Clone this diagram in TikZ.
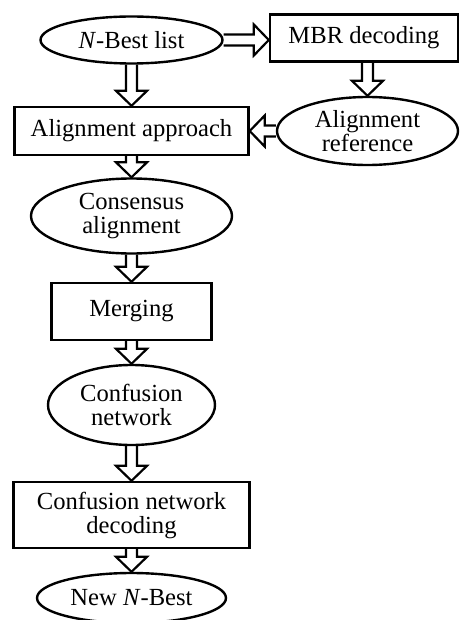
\documentclass[tikz,border=0pt]{standalone}
\usepackage{fontspec}
\setmainfont{Liberation Serif}
\usetikzlibrary{shapes.geometric,calc}
\newcommand{\blkarr}[2]{%
  \path ($(#2)!15bp!(#1)$) coordinate (hb);
  \draw[blkarrow] ($(#1)!5.5bp!90:(#2)$) -- ($(hb)!5.5bp!90:(#2)$) -- ($(hb)!15.5bp!90:(#2)$) -- (#2) -- ($(hb)!15.5bp!-90:(#2)$) -- ($(hb)!5.5bp!-90:(#2)$) -- ($(#1)!5.5bp!-90:(#2)$);}
\begin{document}
\begin{tikzpicture}[x=1bp,y=-1bp,
  base/.style={draw=black, line width=2.4bp, inner sep=0pt, align=center,
    font=\fontsize{24.6bp}{24bp}\selectfont},
  ell/.style={base, ellipse},
  box/.style={base, rectangle},
  blkarrow/.style={draw=black, line width=2.2bp, line join=miter}]
\useasboundingbox (0,0) rectangle (460,620);
\node[ell, minimum width=182bp, minimum height=47bp] (nb) at (131.5,40) {\textit{N}-Best list};
\node[box, minimum width=188bp, minimum height=47bp] (mbr) at (364,38) {MBR decoding};
\node[box, minimum width=234bp, minimum height=48bp] (aa) at (131.5,131) {Alignment approach};
\node[ell, minimum width=181bp, minimum height=68bp] (ar) at (367.5,131) {Alignment\\reference};
\node[ell, minimum width=201bp, minimum height=75bp] (ca) at (131.5,216) {Consensus\\alignment};
\node[box, minimum width=160bp, minimum height=57bp] (mg) at (131.5,311.5) {Merging};
\node[ell, minimum width=167bp, minimum height=80bp] (cn) at (131.5,405) {Confusion\\network};
\node[box, minimum width=236bp, minimum height=66bp] (cnd) at (131.5,515) {Confusion network\\decoding};
\node[ell, minimum width=189bp, minimum height=50bp] (nnb) at (131.5,598) {New \textit{N}-Best};
\coordinate (p1) at (nb.east -| mbr.west);
\coordinate (p2) at (mbr.south -| ar.north);
\coordinate (p3) at (ar.west -| aa.east);
\blkarr{nb.east}{p1}
\blkarr{p2}{ar.north}
\blkarr{ar.west}{p3}
\blkarr{nb.south}{aa.north}
\blkarr{aa.south}{ca.north}
\blkarr{ca.south}{mg.north}
\blkarr{mg.south}{cn.north}
\blkarr{cn.south}{cnd.north}
\blkarr{cnd.south}{nnb.north}
\end{tikzpicture}
\end{document}
